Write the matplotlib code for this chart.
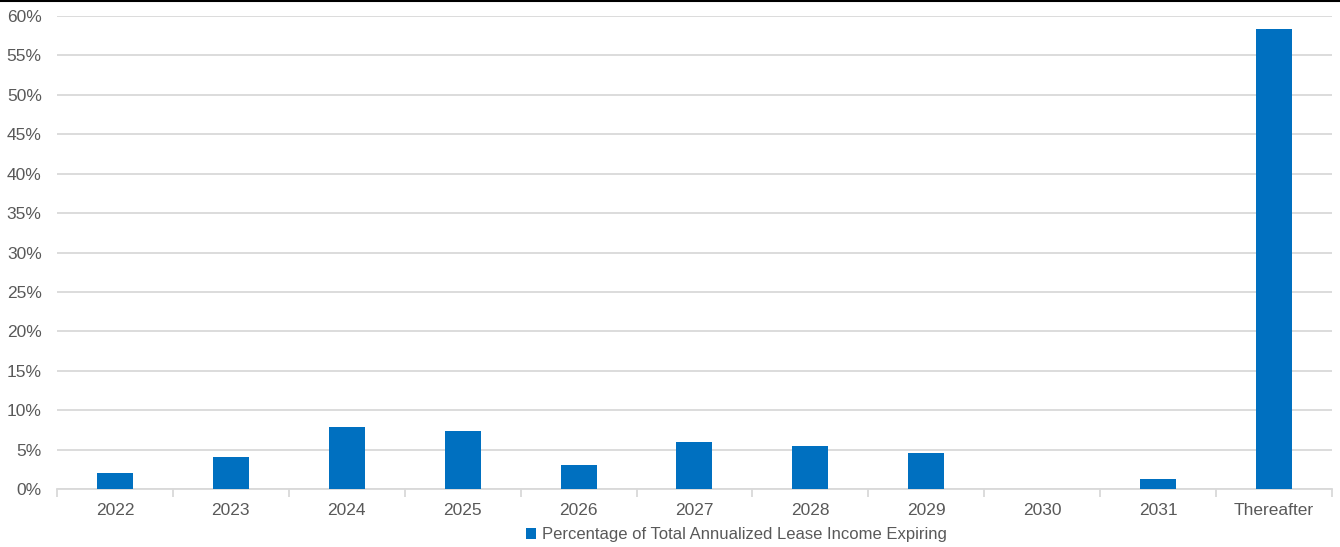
import matplotlib
matplotlib.use("Agg")
import matplotlib.pyplot as plt
from matplotlib.ticker import FuncFormatter, FixedLocator

categories = ['2022', '2023', '2024', '2025', '2026', '2027', '2028', '2029', '2030', '2031', 'Thereafter']
pct_expiring = [2.0, 4.0, 7.9, 7.4, 3.0, 6.0, 5.5, 4.6, 0.0, 1.3, 58.3]
series_name = 'Percentage of Total Annualized Lease Income Expiring'

plt.rcParams['font.family'] = ['Liberation Sans', 'DejaVu Sans']
text_color = '#595959'
grid_color = '#d9d9d9'
bar_color = '#0070c0'

fig = plt.figure(figsize=(13.4, 5.47), dpi=100)
ax = fig.add_axes((0.0425, 0.106, 0.9515, 0.8647))

x = range(len(categories))
ax.bar(x, pct_expiring, width=0.31, color=bar_color, label=series_name, zorder=3)

ax.set_xlim(-0.5, len(categories) - 0.5)
ax.set_ylim(0, 60)
ax.set_yticks(range(0, 61, 5))
ax.yaxis.set_major_formatter(FuncFormatter(lambda v, p: f'{v:.0f}%'))
ax.set_xticks(list(x))
ax.set_xticklabels(categories)
ax.xaxis.set_minor_locator(FixedLocator([i - 0.5 for i in range(len(categories) + 1)]))

ax.grid(axis='y', color=grid_color, linewidth=1.3, zorder=0)
for s in ['top', 'right', 'left']:
    ax.spines[s].set_visible(False)
ax.spines['bottom'].set_color(grid_color)
ax.spines['bottom'].set_linewidth(1.3)

ax.tick_params(axis='y', length=0, pad=11, labelsize=12.5, labelcolor=text_color)
ax.tick_params(axis='x', which='major', length=0, pad=10, labelsize=12.5, labelcolor=text_color)
ax.tick_params(axis='x', which='minor', length=6, width=1.3, color=grid_color)

# legend sits a bit right of centre in the original
leg = fig.legend(loc='center', bbox_to_anchor=(0.5495, 0.022), frameon=False,
                 fontsize=12, handlelength=0.6, handleheight=0.6, handletextpad=0.4,
                 borderpad=0, borderaxespad=0)
for t in leg.get_texts():
    t.set_color(text_color)

# thin black rule along the top edge
fig.add_artist(plt.Line2D([0, 1], [0.998, 0.998], color='black', linewidth=1.5, transform=fig.transFigure))

fig.savefig('out.png', dpi=100)
